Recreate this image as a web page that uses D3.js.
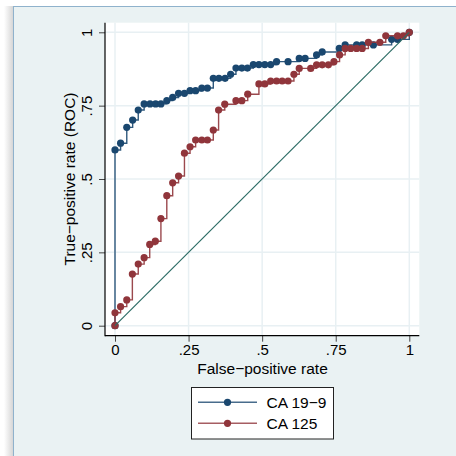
<!DOCTYPE html>
<html>
<head>
<meta charset="utf-8">
<script src="https://cdn.jsdelivr.net/npm/d3@7"></script>
<style>
  body { margin: 0; background: #fff; }
  svg { display: block; font-family: "Liberation Sans", Arial, sans-serif; }
</style>
</head>
<body>
<svg id="graph" width="456" height="456"></svg>
<script>
// ROC points
var ca199_fpr = [0, 0, 0.019, 0.040, 0.060, 0.079, 0.099, 0.119, 0.138, 0.156, 0.176, 0.196, 0.216, 0.236, 0.255, 0.274,
    0.295, 0.314, 0.334, 0.353, 0.374, 0.393, 0.411, 0.431, 0.450, 0.470, 0.489, 0.509, 0.529, 0.549, 0.588,
    0.626, 0.646, 0.685, 0.704, 0.762, 0.782, 0.821, 0.840, 0.878, 0.940, 0.960, 1];
var ca199_tpr = [0, 0.599, 0.622, 0.676, 0.701, 0.735, 0.756, 0.756, 0.756, 0.756, 0.767, 0.778, 0.792, 0.792, 0.801, 0.801,
    0.810, 0.810, 0.843, 0.843, 0.843, 0.857, 0.878, 0.878, 0.878, 0.890, 0.890, 0.890, 0.890, 0.900, 0.900,
    0.911, 0.911, 0.923, 0.933, 0.945, 0.957, 0.957, 0.957, 0.957, 0.976, 0.976, 1];

var ca125_fpr = [0, 0, 0.019, 0.040, 0.059, 0.079, 0.099, 0.118, 0.137, 0.156, 0.176, 0.196, 0.216, 0.236, 0.255, 0.274,
    0.295, 0.314, 0.334, 0.352, 0.373, 0.411, 0.431, 0.451, 0.489, 0.509, 0.529, 0.549, 0.568, 0.588, 0.608,
    0.626, 0.665, 0.685, 0.704, 0.725, 0.744, 0.763, 0.782, 0.801, 0.821, 0.840, 0.861, 0.900, 0.920, 0.960, 0.980, 1];
var ca125_tpr = [0, 0.044, 0.065, 0.088, 0.176, 0.210, 0.232, 0.277, 0.288, 0.365, 0.443, 0.487, 0.510, 0.588, 0.610, 0.633,
    0.633, 0.633, 0.667, 0.735, 0.755, 0.767, 0.767, 0.789, 0.824, 0.824, 0.834, 0.834, 0.834, 0.834, 0.857,
    0.877, 0.877, 0.889, 0.889, 0.889, 0.900, 0.923, 0.945, 0.945, 0.945, 0.945, 0.966, 0.966, 0.988, 0.988, 0.988, 1];

var tick_values = [0, 0.25, 0.5, 0.75, 1];
var tick_labels = ["0", ".25", ".5", ".75", "1"];
var series_names = ["CA 19\u22129", "CA 125"];
var series_colors = ["#1a476f", "#90353b"];

var svg = d3.select("svg#graph");

// outer panel with a soft shadow on the left
var defs = svg.append("defs");
var grad = defs.append("linearGradient").attr("id", "shade");
grad.append("stop").attr("offset", "0%").attr("stop-color", "#fff");
grad.append("stop").attr("offset", "100%").attr("stop-color", "#d6d6d6");
svg.append("rect").attr("x", 4).attr("y", 6).attr("width", 9).attr("height", 460).attr("fill", "url(#shade)");
svg.append("rect")
    .attr("x", 13.5).attr("y", 6.5).attr("width", 520).attr("height", 520)
    .attr("fill", "#eaf2f3").attr("stroke", "#8fb2cc").attr("stroke-width", 1);

var plot = {left: 105, right: 419.3, top: 22.7, bottom: 335.7};

svg.append("rect")
    .attr("x", plot.left).attr("y", plot.top)
    .attr("width", plot.right - plot.left).attr("height", plot.bottom - plot.top)
    .attr("fill", "#fff");

var x = d3.scaleLinear().domain([0, 1]).range([115, 409.3]);
var y = d3.scaleLinear().domain([0, 1]).range([325.7, 32.3]);

// grid
svg.append("g").selectAll("line").data(tick_values).enter().append("line")
    .attr("x1", function (d) { return x(d); }).attr("x2", function (d) { return x(d); })
    .attr("y1", plot.top).attr("y2", plot.bottom)
    .attr("stroke", "#e8f0f3").attr("stroke-width", 1.5);
svg.append("g").selectAll("line").data(tick_values).enter().append("line")
    .attr("y1", function (d) { return y(d); }).attr("y2", function (d) { return y(d); })
    .attr("x1", plot.left).attr("x2", plot.right)
    .attr("stroke", "#e8f0f3").attr("stroke-width", 1.5);

// axes
var xAxis = d3.axisBottom(x).tickValues(tick_values).tickSize(6).tickSizeOuter(0)
    .tickFormat(function (d, i) { return tick_labels[i]; });
var yAxis = d3.axisLeft(y).tickValues(tick_values).tickSize(6).tickSizeOuter(0)
    .tickFormat(function (d, i) { return tick_labels[i]; });

var gx = svg.append("g").attr("transform", "translate(0," + plot.bottom + ")").call(xAxis);
var gy = svg.append("g").attr("transform", "translate(" + plot.left + ",0)").call(yAxis);

[gx, gy].forEach(function (g) {
    g.select(".domain").remove();
    g.selectAll(".tick line").attr("stroke", "#444");
    g.selectAll(".tick text").attr("font-size", "15px").attr("font-family", "Liberation Sans, Arial, sans-serif").attr("fill", "#000");
});
gy.selectAll(".tick text")
    .attr("x", 0).attr("dy", 0).attr("text-anchor", "middle")
    .attr("transform", "translate(-13,0) rotate(-90)");

svg.append("line").attr("x1", plot.left).attr("x2", plot.left).attr("y1", plot.top).attr("y2", plot.bottom + 0.5)
    .attr("stroke", "#000").attr("stroke-width", 1.2);
svg.append("line").attr("x1", plot.left).attr("x2", plot.right).attr("y1", plot.bottom).attr("y2", plot.bottom)
    .attr("stroke", "#000").attr("stroke-width", 1.2);

// titles
svg.append("text").attr("x", 262.5).attr("y", 373.5).attr("text-anchor", "middle")
    .attr("font-size", "15.5px").text("False\u2212positive rate");
svg.append("text").attr("text-anchor", "middle").attr("font-size", "15.5px")
    .attr("transform", "translate(74.5," + y(0.5) + ") rotate(-90)")
    .text("True\u2212positive rate (ROC)");

// curves
function drawSeries(fpr, tpr, color) {
    var pts = fpr.map(function (d, i) { return {x: d, y: tpr[i]}; });
    var line = d3.line()
        .x(function (d) { return x(d.x); })
        .y(function (d) { return y(d.y); })
        .curve(d3.curveStepAfter);
    svg.append("path").attr("d", line(pts))
        .attr("fill", "none").attr("stroke", color).attr("stroke-width", 1.4).attr("stroke-opacity", 0.9);
    svg.append("g").selectAll("circle").data(pts).enter().append("circle")
        .attr("cx", function (d) { return x(d.x); })
        .attr("cy", function (d) { return y(d.y); })
        .attr("r", 3.6).attr("fill", color);
}
drawSeries(ca199_fpr, ca199_tpr, series_colors[0]);
drawSeries(ca125_fpr, ca125_tpr, series_colors[1]);

// reference line
svg.append("line").attr("x1", x(0)).attr("y1", y(0)).attr("x2", x(1)).attr("y2", y(1))
    .attr("stroke", "#2d6d66").attr("stroke-width", 1.2);

// legend
var legend = svg.append("g");
legend.append("rect").attr("x", 191.5).attr("y", 387.5).attr("width", 142).attr("height", 51.5)
    .attr("fill", "#fff").attr("stroke", "#222").attr("stroke-width", 1);
series_names.forEach(function (name, i) {
    var ly = 402.3 + i * 21;
    legend.append("line").attr("x1", 198).attr("x2", 257).attr("y1", ly).attr("y2", ly)
        .attr("stroke", series_colors[i]).attr("stroke-width", 1.4).attr("stroke-opacity", 0.8);
    legend.append("circle").attr("cx", 227.5).attr("cy", ly).attr("r", 3.6).attr("fill", series_colors[i]);
    legend.append("text").attr("x", 266.5).attr("y", ly + 5.3).attr("font-size", "15.5px").text(name);
});
</script>
</body>
</html>
